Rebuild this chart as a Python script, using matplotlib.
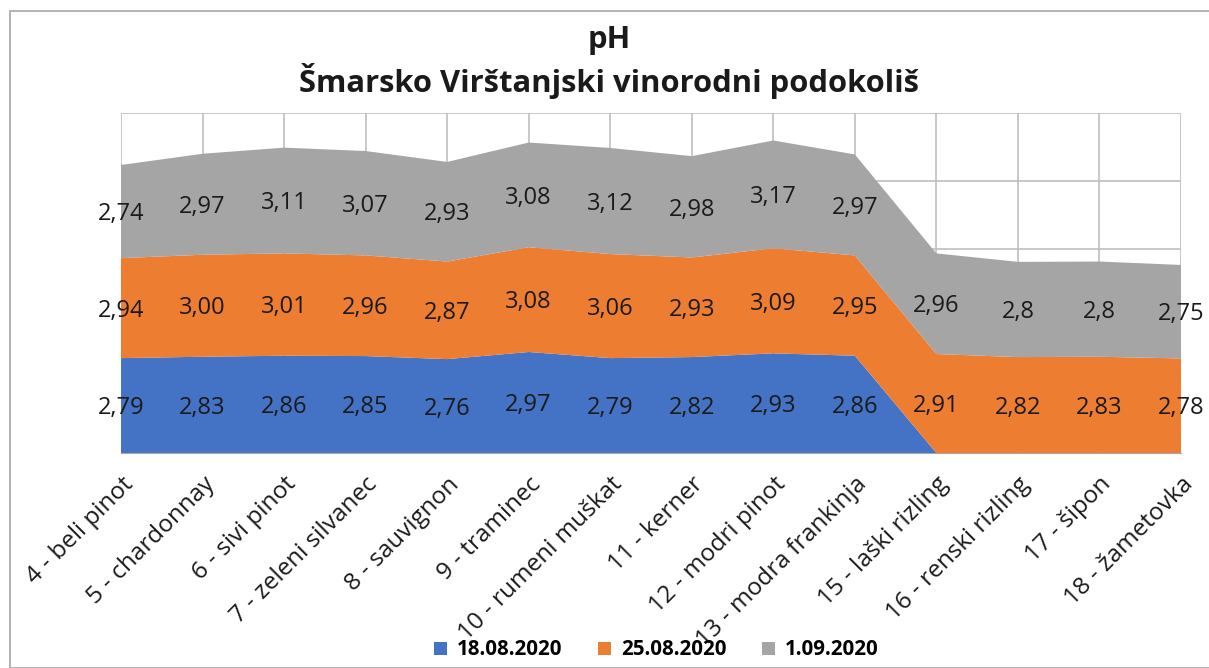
import matplotlib.pyplot as plt
import numpy as np
from matplotlib.patches import Rectangle
from matplotlib.transforms import ScaledTranslation

plt.rcParams['font.family'] = ['Open Sans', 'DejaVu Sans']

categories = ["4 - beli pinot", "5 - chardonnay", "6 - sivi pinot", "7 - zeleni silvanec",
              "8 - sauvignon", "9 - traminec", "10 - rumeni muškat", "11 - kerner",
              "12 - modri pinot", "13 - modra frankinja", "15 - laški rizling",
              "16 - renski rizling", "17 - šipon", "18 - žametovka"]

# values as shown in the source table (decimal comma)
ph_1808 = ["2,79", "2,83", "2,86", "2,85", "2,76", "2,97", "2,79", "2,82", "2,93", "2,86",
           "", "", "", ""]
ph_2508 = ["2,94", "3,00", "3,01", "2,96", "2,87", "3,08", "3,06", "2,93", "3,09", "2,95",
           "2,91", "2,82", "2,83", "2,78"]
ph_0109 = ["2,74", "2,97", "3,11", "3,07", "2,93", "3,08", "3,12", "2,98", "3,17", "2,97",
           "2,96", "2,8", "2,8", "2,75"]

series_names = ["18.08.2020", "25.08.2020", "1.09.2020"]
series_text = [ph_1808, ph_2508, ph_0109]
colors = ["#4472C4", "#ED7D31", "#A5A5A5"]


def to_num(s):
    return float(s.replace(",", ".")) if s else 0.0


fig = plt.figure(figsize=(12.09, 6.68), dpi=100)
fig.patches.append(Rectangle((10 / 1209, 0), 1.2, 1 - 11 / 668, transform=fig.transFigure,
                             fill=False, edgecolor="#a6a6a6", linewidth=1.2, zorder=0))

ax = fig.add_axes([0.1001, 0.3219, 0.8767, 0.509])
x = np.arange(len(categories))
vals = [np.array([to_num(s) for s in txt]) for txt in series_text]

ax.stackplot(x, *vals, colors=colors, labels=series_names, zorder=2, linewidth=0)

bottom = np.zeros(len(categories))
for txt, v in zip(series_text, vals):
    for i in range(len(categories)):
        if txt[i]:
            ax.text(x[i], bottom[i] + v[i] / 2 - 0.08, txt[i], ha="center", va="center",
                    fontsize=17, color="#1a1a1a", zorder=3)
    bottom = bottom + v

ax.set_xlim(0, len(categories) - 1)
ax.set_ylim(0, 10)
ax.set_yticks([0, 2, 4, 6, 8, 10])
ax.set_yticklabels([])
ax.set_xticks(x)
ax.set_xticklabels(categories, rotation=45, ha="right", va="top", rotation_mode="anchor",
                   fontsize=17.5, color="#1a1a1a")
shift = ScaledTranslation(-10 / 100, 0, fig.dpi_scale_trans)
for lbl in ax.get_xticklabels():
    lbl.set_transform(lbl.get_transform() + shift)
ax.tick_params(axis="both", length=0)
ax.tick_params(axis="x", pad=14)
ax.grid(True, color="#bfbfbf", linewidth=1.2, zorder=1)
ax.set_axisbelow(True)
for side in ["left", "top", "right"]:
    ax.spines[side].set_visible(False)
ax.spines["bottom"].set_color("#a6a6a6")
ax.spines["bottom"].set_zorder(4)

fig.text(0.504, 0.907, "pH\nŠmarsko Virštanjski vinorodni podokoliš", ha="center", va="center",
         fontsize=22.3, fontweight="bold", linespacing=1.3, color="#1a1a1a")

handles, labels = ax.get_legend_handles_labels()
leg = fig.legend(handles, labels, loc="center", bbox_to_anchor=(0.543, 0.027), ncol=3,
                 frameon=False, handlelength=0.6, handleheight=0.6, handletextpad=0.5,
                 columnspacing=1.75, prop={"size": 14.8, "weight": "bold"})

fig.savefig("out.png", dpi=100)
